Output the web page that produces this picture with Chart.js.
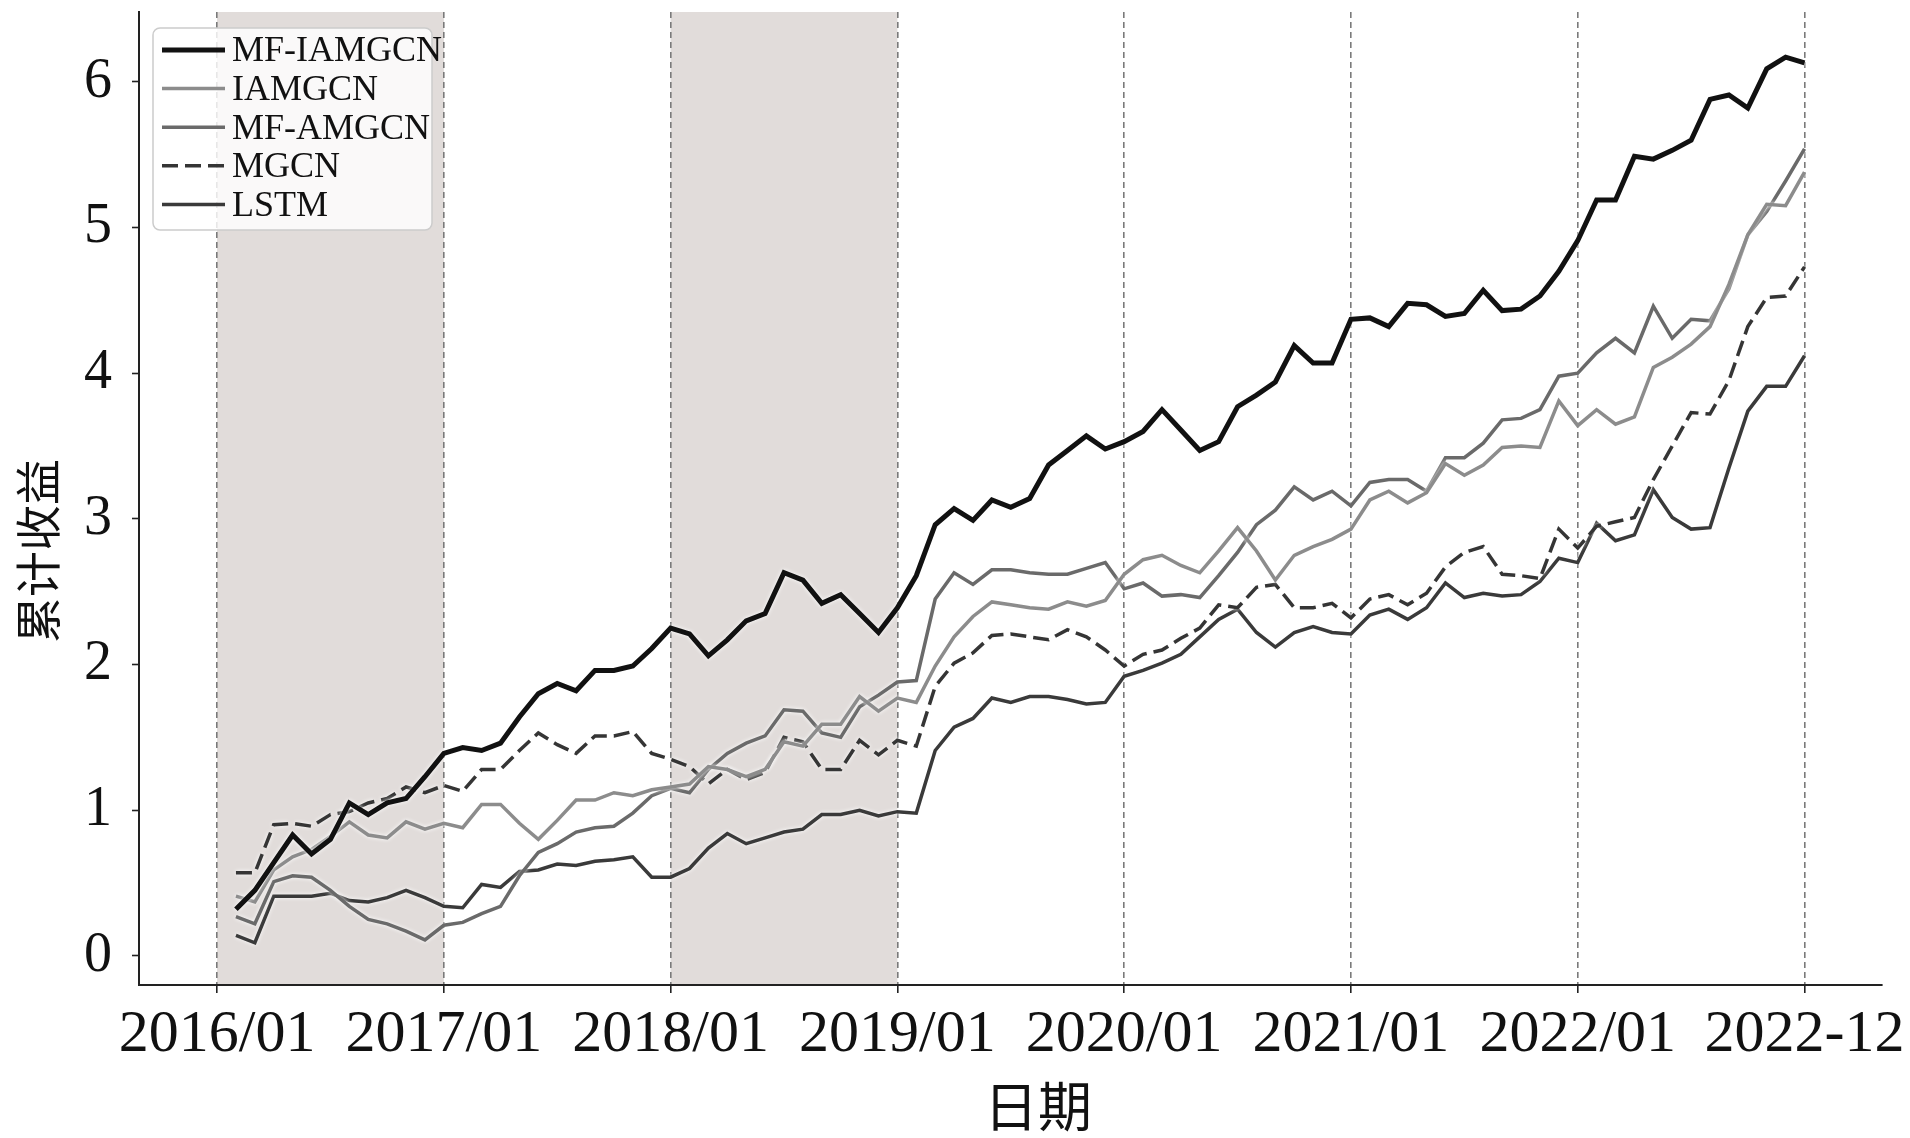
<!DOCTYPE html>
<html lang="zh">
<head>
<meta charset="UTF-8">
<title>累计收益</title>
<script src="https://cdn.jsdelivr.net/npm/chart.js"></script>
<style>
  html, body { margin: 0; padding: 0; background: #fff; }
  #wrap { width: 1910px; height: 1138px; }
</style>
</head>
<body>
<div id="wrap"><canvas id="myChart" width="1910" height="1138"></canvas></div>
<script>
// month-end points 2016-01 ... 2022-12
const months = [];
for (let y = 2016; y <= 2022; y++) {
    for (let m = 1; m <= 12; m++) months.push(y + '-' + String(m).padStart(2, '0'));
}

// x tick labels and their place (months after 2016/01)
const tickLabels = ['2016/01', '2017/01', '2018/01', '2019/01', '2020/01', '2021/01', '2022/01', '2022-12'];
const tickMonths = [0, 12, 24, 36, 48, 60, 72, 84];
const yTicks = [0, 1, 2, 3, 4, 5, 6];

// shaded periods (months after 2016/01)
const shadedSpans = [[0, 12], [24, 36]];

const xTitle = '日期';
const yTitle = '累计收益';
const seriesNames = ['MF-IAMGCN', 'IAMGCN', 'MF-AMGCN', 'MGCN', 'LSTM'];

const mfIamgcn = [
    0.32, 0.45, 0.64, 0.83, 0.70, 0.80, 1.05, 0.97, 1.05, 1.08, 1.23, 1.39,
    1.43, 1.41, 1.46, 1.64, 1.80, 1.87, 1.82, 1.96, 1.96, 1.99, 2.11, 2.25,
    2.21, 2.06, 2.17, 2.30, 2.35, 2.63, 2.58, 2.42, 2.48, 2.35, 2.22, 2.39,
    2.61, 2.96, 3.07, 2.99, 3.13, 3.08, 3.14, 3.37, 3.47, 3.57, 3.48, 3.53,
    3.60, 3.75, 3.61, 3.47, 3.53, 3.77, 3.85, 3.94, 4.19, 4.07, 4.07, 4.37,
    4.38, 4.32, 4.48, 4.47, 4.39, 4.41, 4.57, 4.43, 4.44, 4.53, 4.70, 4.91,
    5.19, 5.19, 5.49, 5.47, 5.53, 5.60, 5.88, 5.91, 5.82, 6.09, 6.17, 6.13
];
const iamgcn = [
    0.41, 0.37, 0.59, 0.68, 0.73, 0.82, 0.92, 0.83, 0.81, 0.92, 0.87, 0.91,
    0.88, 1.04, 1.04, 0.91, 0.80, 0.93, 1.07, 1.07, 1.12, 1.10, 1.14, 1.16,
    1.18, 1.30, 1.28, 1.23, 1.28, 1.47, 1.44, 1.59, 1.59, 1.78, 1.68, 1.77,
    1.74, 1.99, 2.19, 2.33, 2.43, 2.41, 2.39, 2.38, 2.43, 2.40, 2.44, 2.62,
    2.72, 2.75, 2.68, 2.63, 2.78, 2.94, 2.78, 2.58, 2.75, 2.81, 2.86, 2.93,
    3.13, 3.19, 3.11, 3.18, 3.38, 3.30, 3.37, 3.49, 3.50, 3.49, 3.81, 3.64,
    3.75, 3.65, 3.70, 4.04, 4.11, 4.20, 4.32, 4.61, 4.95, 5.16, 5.15, 5.38
];
const mfAmgcn = [
    0.27, 0.22, 0.51, 0.55, 0.54, 0.45, 0.34, 0.25, 0.22, 0.17, 0.11, 0.21,
    0.23, 0.29, 0.34, 0.55, 0.71, 0.77, 0.85, 0.88, 0.89, 0.98, 1.10, 1.15,
    1.12, 1.28, 1.39, 1.46, 1.51, 1.69, 1.68, 1.53, 1.50, 1.71, 1.79, 1.88,
    1.89, 2.45, 2.63, 2.55, 2.65, 2.65, 2.63, 2.62, 2.62, 2.66, 2.70, 2.52,
    2.56, 2.47, 2.48, 2.46, 2.61, 2.77, 2.96, 3.06, 3.22, 3.13, 3.19, 3.09,
    3.25, 3.27, 3.27, 3.19, 3.42, 3.42, 3.52, 3.68, 3.69, 3.75, 3.98, 4.00,
    4.14, 4.24, 4.14, 4.46, 4.24, 4.37, 4.36, 4.58, 4.95, 5.11, 5.32, 5.54
];
const mgcn = [
    0.57, 0.57, 0.90, 0.91, 0.89, 0.97, 0.99, 1.05, 1.08, 1.16, 1.12, 1.17,
    1.13, 1.28, 1.28, 1.41, 1.53, 1.45, 1.39, 1.51, 1.51, 1.54, 1.39, 1.35,
    1.30, 1.18, 1.28, 1.21, 1.26, 1.50, 1.47, 1.28, 1.28, 1.48, 1.38, 1.48,
    1.44, 1.85, 2.01, 2.08, 2.20, 2.21, 2.19, 2.17, 2.24, 2.19, 2.10, 1.99,
    2.07, 2.10, 2.18, 2.25, 2.41, 2.39, 2.53, 2.55, 2.39, 2.39, 2.42, 2.32,
    2.45, 2.48, 2.41, 2.49, 2.67, 2.77, 2.81, 2.62, 2.61, 2.59, 2.93, 2.80,
    2.95, 2.98, 3.01, 3.27, 3.50, 3.73, 3.72, 3.95, 4.32, 4.52, 4.53, 4.73
];
const lstm = [
    0.14, 0.09, 0.41, 0.41, 0.41, 0.43, 0.38, 0.37, 0.40, 0.45, 0.40, 0.34,
    0.33, 0.49, 0.47, 0.58, 0.59, 0.63, 0.62, 0.65, 0.66, 0.68, 0.54, 0.54,
    0.60, 0.74, 0.84, 0.77, 0.81, 0.85, 0.87, 0.97, 0.97, 1.00, 0.96, 0.99,
    0.98, 1.41, 1.57, 1.63, 1.77, 1.74, 1.78, 1.78, 1.76, 1.73, 1.74, 1.92,
    1.96, 2.01, 2.07, 2.19, 2.31, 2.38, 2.22, 2.12, 2.22, 2.26, 2.22, 2.21,
    2.34, 2.38, 2.31, 2.39, 2.56, 2.46, 2.49, 2.47, 2.48, 2.57, 2.73, 2.70,
    2.97, 2.85, 2.89, 3.20, 3.01, 2.93, 2.94, 3.35, 3.74, 3.91, 3.91, 4.12
];
const seriesValues = [mfIamgcn, iamgcn, mfAmgcn, mgcn, lstm];

const lineStyles = [
    { color: '#111111', width: 5, dash: [] },
    { color: '#8c8c8c', width: 3.5, dash: [] },
    { color: '#6a6a6a', width: 3.5, dash: [] },
    { color: '#353535', width: 3.5, dash: [16, 7] },
    { color: '#3a3a3a', width: 3.5, dash: [] }
];

// point i sits at the end of its month
const toPoints = vals => vals.map((v, i) => ({ x: i + 1, y: v }));

const serif = '"Liberation Serif", "Times New Roman", serif';
const cjk = '"Noto Sans CJK SC", sans-serif';

// grey bands behind everything
const shading = {
    id: 'shading',
    beforeDraw(chart) {
        const { ctx, chartArea, scales: { x } } = chart;
        ctx.save();
        ctx.fillStyle = '#e1dcda';
        shadedSpans.forEach(([a, b]) => {
            const x1 = x.getPixelForValue(a);
            const x2 = x.getPixelForValue(b);
            ctx.fillRect(x1, chartArea.top, x2 - x1, chartArea.bottom - chartArea.top);
        });
        ctx.restore();
    }
};

// thin white outline round each line
const halo = {
    id: 'halo',
    beforeDatasetDraw(chart) {
        chart.ctx.save();
        chart.ctx.shadowColor = '#ffffff';
        chart.ctx.shadowBlur = 4;
    },
    afterDatasetDraw(chart) {
        chart.ctx.restore();
    }
};

// legend box in the top left corner of the plot
const legendBox = {
    id: 'legendBox',
    afterDraw(chart) {
        const { ctx, chartArea } = chart;
        const x0 = chartArea.left + 14;
        const y0 = chartArea.top + 16;
        ctx.save();
        ctx.beginPath();
        ctx.roundRect(x0, y0, 279, 202, 7);
        ctx.fillStyle = 'rgba(255,255,255,0.82)';
        ctx.fill();
        ctx.strokeStyle = '#cccccc';
        ctx.lineWidth = 1.5;
        ctx.stroke();
        chart.data.datasets.forEach((ds, k) => {
            const y = y0 + 22 + k * 38.6;
            ctx.beginPath();
            ctx.setLineDash(ds.borderDash || []);
            ctx.strokeStyle = ds.borderColor;
            ctx.lineWidth = ds.borderWidth;
            ctx.moveTo(x0 + 9, y);
            ctx.lineTo(x0 + 72, y);
            ctx.stroke();
            ctx.setLineDash([]);
            ctx.fillStyle = '#111';
            ctx.font = '36px ' + serif;
            ctx.textAlign = 'left';
            ctx.textBaseline = 'middle';
            ctx.fillText(ds.label, x0 + 79, y + 2);
        });
        ctx.restore();
    }
};

// axis titles
const axisTitles = {
    id: 'axisTitles',
    afterDraw(chart) {
        const ctx = chart.ctx;
        ctx.save();
        ctx.fillStyle = '#111';
        ctx.textAlign = 'center';
        ctx.textBaseline = 'middle';
        ctx.font = '54px ' + cjk;
        ctx.fillText(xTitle, 1038, 1106);
        ctx.translate(38, 551);
        ctx.rotate(-Math.PI / 2);
        ctx.font = '46px ' + cjk;
        ctx.fillText(yTitle, 0, 0);
        ctx.restore();
    }
};

const ctx = document.getElementById('myChart').getContext('2d');

const myChart = new Chart(ctx, {
    type: 'line',
    data: {
        datasets: seriesNames.map((name, k) => ({
            label: name,
            data: toPoints(seriesValues[k]),
            borderColor: lineStyles[k].color,
            borderWidth: lineStyles[k].width,
            borderDash: lineStyles[k].dash,
            pointRadius: 0,
            tension: 0,
            fill: false
        }))
    },
    options: {
        responsive: false,
        animation: false,
        devicePixelRatio: 1,
        layout: { padding: { top: 12, right: 28, left: 0, bottom: 0 } },
        plugins: {
            legend: { display: false },
            tooltip: { enabled: false }
        },
        scales: {
            x: {
                type: 'linear',
                min: -4.13,
                max: 88.1,
                afterBuildTicks: s => { s.ticks = tickMonths.map(v => ({ value: v })); },
                afterFit: s => { s.height = 153; s.paddingLeft = 0; s.paddingRight = 0; },
                ticks: {
                    autoSkip: false,
                    maxRotation: 0,
                    padding: 6,
                    color: '#111',
                    font: { family: serif, size: 60 },
                    callback: (v, i) => tickLabels[i]
                },
                grid: {
                    display: true,
                    drawOnChartArea: true,
                    drawTicks: true,
                    color: '#7a7a7a',
                    lineWidth: 1.6,
                    tickLength: 8,
                    tickColor: '#222',
                    tickWidth: 1.6
                },
                border: { display: true, color: '#222', width: 2, dash: [6, 4] }
            },
            y: {
                min: -0.2,
                max: 6.48,
                afterBuildTicks: s => { s.ticks = yTicks.map(v => ({ value: v })); },
                afterFit: s => { s.width = 139; s.paddingTop = 0; s.paddingBottom = 0; },
                ticks: {
                    padding: 20,
                    color: '#111',
                    font: { family: serif, size: 56 },
                    callback: v => String(v)
                },
                grid: {
                    display: true,
                    drawOnChartArea: false,
                    drawTicks: true,
                    tickLength: 7,
                    tickColor: '#222',
                    tickWidth: 1.6
                },
                border: { display: true, color: '#222', width: 2 }
            }
        }
    },
    plugins: [shading, halo, legendBox, axisTitles]
});
</script>
</body>
</html>
